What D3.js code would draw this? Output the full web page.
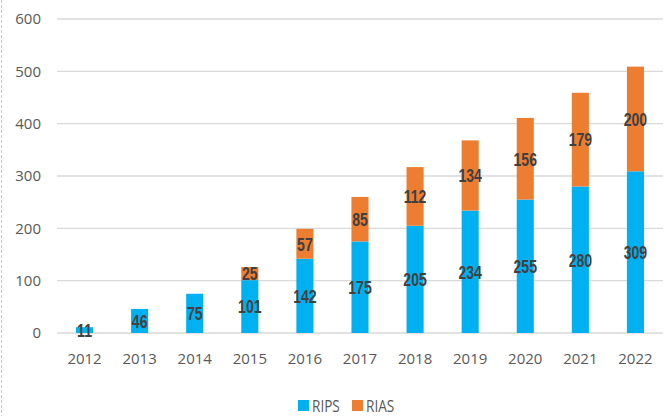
<!DOCTYPE html>
<html>
<head>
<meta charset="utf-8">
<script src="https://cdn.jsdelivr.net/npm/d3@7"></script>
<style>
body { margin: 0; background: #fff; }
svg { display: block; }
</style>
</head>
<body>
<svg id="chart"></svg>
<script>
var years = ["2012","2013","2014","2015","2016","2017","2018","2019","2020","2021","2022"]
var rips = [11, 46, 75, 101, 142, 175, 205, 234, 255, 280, 309]
var rias = [0, 0, 0, 25, 57, 85, 112, 134, 156, 179, 200]
var yTicks = [0, 100, 200, 300, 400, 500, 600]
var seriesNames = ["RIPS", "RIAS"]
var colors = ["#00b0f0", "#ed7d31"]

var screen = {width: 670, height: 416}
var margin = {top: 19, left: 57, right: 7, bottom: 83}

var svg = d3.select("#chart")
    .attr("width", screen.width)
    .attr("height", screen.height)

// dashed left border
svg.append("line")
    .attr("x1", 1.5).attr("x2", 1.5)
    .attr("y1", 0).attr("y2", screen.height)
    .attr("stroke", "#c8c8c8")
    .attr("stroke-dasharray", "3,2")

var xScale = d3.scaleBand()
    .domain(years)
    .range([margin.left, screen.width - margin.right])
    .paddingInner(0.69)
    .paddingOuter(0.345)

var yScale = d3.scaleLinear()
    .domain([0, 600])
    .range([screen.height - margin.bottom, margin.top])

// gridlines
svg.append("g")
    .selectAll("line")
    .data(yTicks)
    .enter()
    .append("line")
    .attr("x1", margin.left)
    .attr("x2", screen.width - margin.right)
    .attr("y1", function(d){ return yScale(d) })
    .attr("y2", function(d){ return yScale(d) })
    .attr("stroke", "#d9d9d9")
    .attr("stroke-width", 1.3)

// y tick labels
svg.append("g")
    .selectAll("text")
    .data(yTicks)
    .enter()
    .append("text")
    .attr("x", 41)
    .attr("y", function(d){ return yScale(d) })
    .attr("dy", "0.35em")
    .attr("text-anchor", "end")
    .attr("font-family", "'Open Sans', sans-serif")
    .attr("font-size", 15)
    .attr("fill", "#595959")
    .text(function(d){ return d })

// x tick labels
svg.append("g")
    .selectAll("text")
    .data(years)
    .enter()
    .append("text")
    .attr("x", function(d){ return xScale(d) + xScale.bandwidth() / 2 })
    .attr("y", yScale(0) + 31)
    .attr("text-anchor", "middle")
    .attr("font-family", "'Open Sans', sans-serif")
    .attr("font-size", 15)
    .attr("fill", "#595959")
    .text(function(d){ return d })

// stacked data
var table = years.map(function(y, i){ return {year: y, RIPS: rips[i], RIAS: rias[i]} })
var stack = d3.stack().keys(seriesNames)(table)

var layers = svg.append("g")
    .selectAll("g")
    .data(stack)
    .enter()
    .append("g")
    .attr("fill", function(d, i){ return colors[i] })

layers.selectAll("rect")
    .data(function(d){ return d })
    .enter()
    .append("rect")
    .attr("x", function(d){ return xScale(d.data.year) })
    .attr("width", xScale.bandwidth())
    .attr("y", function(d){ return yScale(d[1]) })
    .attr("height", function(d){ return yScale(d[0]) - yScale(d[1]) })

// value labels, squeezed to look like a narrow bold face
layers.selectAll("text")
    .data(function(d){ return d.filter(function(p){ return p[1] - p[0] > 0 }) })
    .enter()
    .append("text")
    .attr("transform", function(d){
        var x = xScale(d.data.year) + xScale.bandwidth() / 2
        var y = yScale((d[0] + d[1]) / 2)
        return "translate(" + x + "," + y + ") scale(0.74,1)"
    })
    .attr("dy", "0.36em")
    .attr("text-anchor", "middle")
    .attr("font-family", "'Liberation Sans', Arial, sans-serif")
    .attr("font-weight", "bold")
    .attr("font-size", 19)
    .attr("fill", "#404040")
    .text(function(d){ return d[1] - d[0] })

// legend
var legend = svg.append("g")
    .selectAll("g")
    .data(seriesNames)
    .enter()
    .append("g")
    .attr("transform", function(d, i){ return "translate(" + (298 + i * 54) + ",400)" })

legend.append("rect")
    .attr("width", 11)
    .attr("height", 11)
    .attr("fill", function(d, i){ return colors[i] })

legend.append("text")
    .attr("transform", "translate(14,6) scale(0.85,1)")
    .attr("dy", "0.35em")
    .attr("font-family", "'Open Sans', sans-serif")
    .attr("font-size", 16)
    .attr("fill", "#595959")
    .text(function(d){ return d })
</script>
</body>
</html>
